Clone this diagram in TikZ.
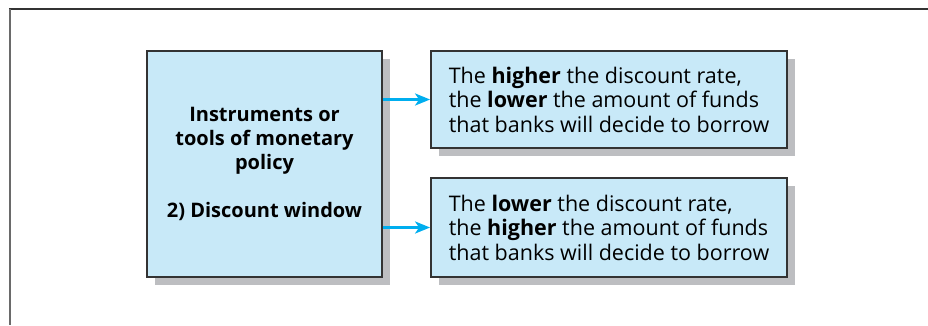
\documentclass[tikz,border=0pt]{standalone}
\usepackage{fontspec}
\setmainfont{Open Sans}
\usetikzlibrary{shadows,arrows.meta}
\definecolor{boxblue}{HTML}{C8E9F8}
\definecolor{shadowgray}{HTML}{BDBEC1}
\definecolor{arrowcyan}{HTML}{00AEEF}
\definecolor{frametop}{HTML}{333333}
\definecolor{frameleft}{HTML}{6A6A6A}
\begin{document}
\begin{tikzpicture}[x=1pt,y=-1pt,
  box/.style={draw=black!80, line width=1.8pt, fill=boxblue,
    drop shadow={shadow xshift=8pt, shadow yshift=-8pt, fill=shadowgray, opacity=1},
    inner sep=0pt, font=\fontsize{21.5}{24.5}\selectfont},
  link/.style={draw=arrowcyan, line width=3pt, -{Stealth[length=15pt,width=12pt,inset=4pt]}}]
\useasboundingbox (0,0) rectangle (928,325);
\draw[frametop, line width=2.5pt] (8.75,9) -- (928,9);
\draw[frameleft, line width=2.5pt] (10,9) -- (10,325);
\node[box, minimum width=235pt, minimum height=226pt, align=center, font=\fontsize{20}{24}\selectfont\bfseries] (main) at (264.5,164)
  {Instruments or\\tools of monetary\\policy\\[24pt]2) Discount window};
\node[box, minimum width=356pt, minimum height=97pt, align=left] (up) at (609,99.5)
  {The \textbf{higher} the discount rate,\\the \textbf{lower} the amount of funds\\that banks will decide to borrow};
\node[box, minimum width=356pt, minimum height=99pt, align=left] (down) at (609,227.5)
  {The \textbf{lower} the discount rate,\\the \textbf{higher} the amount of funds\\that banks will decide to borrow};
\draw[link] (main.east |- up.west) -- (up.west);
\draw[link] (main.east |- down.west) -- (down.west);
\end{tikzpicture}
\end{document}
